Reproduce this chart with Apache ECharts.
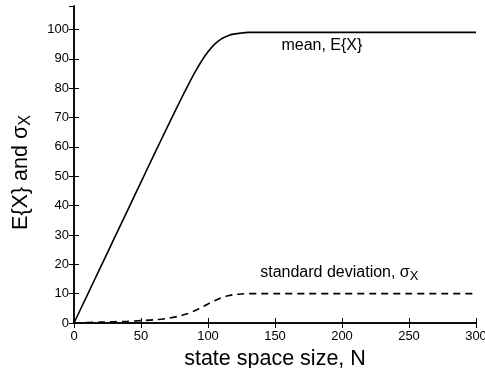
<!DOCTYPE html>
<html>
<head>
<meta charset="utf-8">
<script src="https://cdn.jsdelivr.net/npm/echarts@6/dist/echarts.min.js"></script>
<style>html,body{margin:0;padding:0;background:#fff}#c{width:485px;height:368px}</style>
</head>
<body>
<div id="c"></div>
<script>
var nValues = [0,10,20,30,40,50,60,70,80,85,90,95,100,105,110,115,120,125,130,140,150,175,200,225,250,275,300];
var meanValues = [0,9.6,19.2,28.8,38.4,48,57.6,67.1,76.4,80.9,85.2,89.1,92.4,95,96.8,97.9,98.5,98.8,99,99,99,99,99,99,99,99,99];
var stdValues = [0,0.15,0.3,0.45,0.6,0.8,1.1,1.6,2.5,3.2,4.2,5.3,6.5,7.6,8.6,9.3,9.7,9.9,10,10,10,10,10,10,10,10,10];
var xTicks = [0,50,100,150,200,250,300];
var yTicks = [0,10,20,30,40,50,60,70,80,90,100];

function pairs(ys){ return nValues.map(function(n,i){ return [n, ys[i]]; }); }
function tick(){ return {show:true, inside:true, length:5, lineStyle:{color:'#000', width:1}}; }

var FONT = 'Liberation Sans';
var chart = echarts.init(document.getElementById('c'), null, {renderer:'canvas'});
chart.setOption({
  animation:false,
  backgroundColor:'#fff',
  grid:{left:74, right:9, top:6, bottom:45, containLabel:false, outerBoundsMode:'none'},
  xAxis:[{
    type:'value', min:0, max:300, interval:50,
    axisLine:{show:true, lineStyle:{color:'#000', width:1.5}},
    axisTick:tick(),
    splitLine:{show:false},
    axisLabel:{color:'#000', fontFamily:FONT, fontSize:13, margin:7,
      formatter:function(v){ return xTicks.indexOf(v) >= 0 ? String(v) : ''; }},
    name:'state space size, N', nameLocation:'middle', nameGap:9,
    nameTextStyle:{color:'#000', fontFamily:FONT, fontSize:21.5}
  },{
    type:'value', min:0, max:300, interval:50, position:'top',
    axisLine:{show:true, lineStyle:{color:'#000', width:1.5}},
    axisTick:tick(), axisLabel:{show:false}, splitLine:{show:false}
  }],
  yAxis:[{
    type:'value', min:0, max:108, interval:10,
    axisLine:{show:true, lineStyle:{color:'#000', width:1.5}},
    axisTick:tick(),
    splitLine:{show:false},
    axisLabel:{color:'#000', fontFamily:FONT, fontSize:13, margin:5, showMaxLabel:false,
      formatter:function(v){ return yTicks.indexOf(v) >= 0 ? String(v) : ''; }},
    name:'E{X} and σ{sub|X}', nameLocation:'middle', nameGap:40, nameRotate:90,
    nameTextStyle:{color:'#000', fontFamily:FONT, fontSize:21.5, padding:[0,16,0,0],
      rich:{sub:{fontFamily:FONT, fontSize:16, color:'#000', padding:[10,0,0,0]}}}
  },{
    type:'value', min:0, max:108, interval:10, position:'right',
    axisLine:{show:true, lineStyle:{color:'#000', width:1.5}},
    axisTick:tick(), axisLabel:{show:false}, splitLine:{show:false}
  }],
  series:[{
    type:'line', data:pairs(meanValues), smooth:0.3, showSymbol:false, symbol:'none',
    lineStyle:{color:'#000', width:1.6, type:'solid'},
    markPoint:{symbol:'circle', symbolSize:0, silent:true,
      data:[{coord:[185, 94.4]}],
      label:{show:true, position:'inside', color:'#000', fontFamily:FONT, fontSize:16,
        formatter:function(){ return 'mean, E{X}'; }}}
  },{
    type:'line', data:pairs(stdValues), smooth:0.3, showSymbol:false, symbol:'none',
    lineStyle:{color:'#000', width:1.6, type:[7,5]},
    markPoint:{symbol:'circle', symbolSize:0, silent:true,
      data:[{coord:[198, 17.3]}],
      label:{show:true, position:'inside', color:'#000', fontFamily:FONT, fontSize:16,
        formatter:'{n|standard deviation, σ}{s|X}',
        rich:{n:{fontFamily:FONT, fontSize:16, color:'#000'},
              s:{fontFamily:FONT, fontSize:13, color:'#000', padding:[9,0,0,0]}}}}
  }]
});
</script>
</body>
</html>
